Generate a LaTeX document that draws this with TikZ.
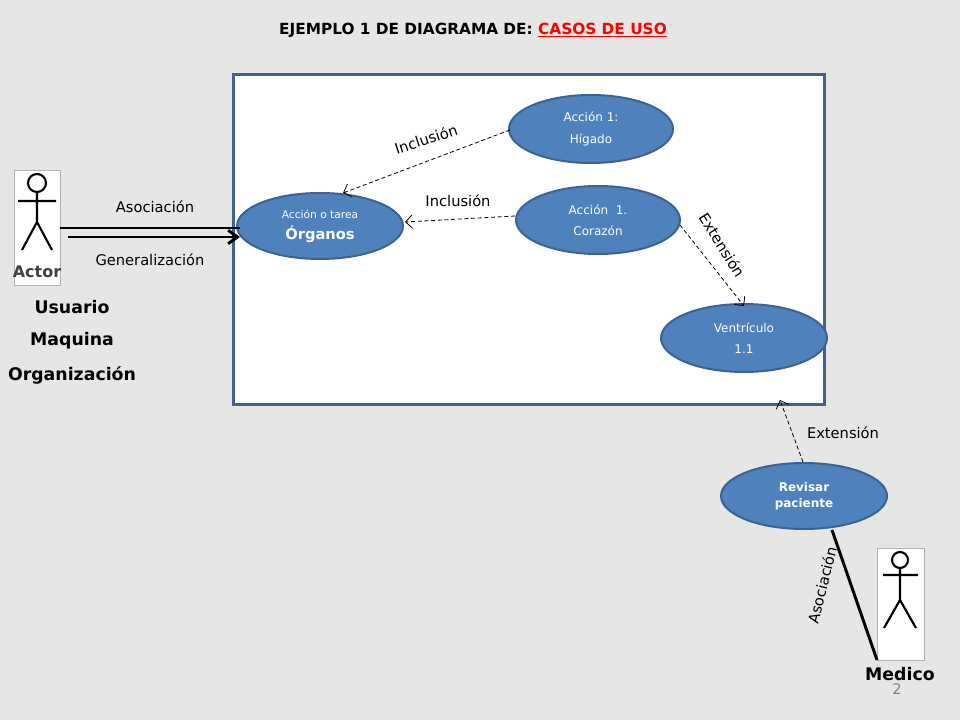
\documentclass[tikz,border=0pt]{standalone}
\usepackage{fontspec}
\setmainfont{DejaVu Sans}
\usetikzlibrary{arrows.meta,shapes.geometric}
\definecolor{bg}{HTML}{E6E6E4}
\definecolor{uc}{HTML}{4F81BD}
\definecolor{ucb}{HTML}{3A6391}
\definecolor{boxb}{HTML}{41648F}
\tikzset{
 usecase/.style={ellipse,fill=uc,draw=ucb,line width=1.5pt,text=white,font=\fontsize{9}{16}\selectfont,align=center,inner sep=0pt},
 dep/.style={densely dashed,-{Straight Barb[length=5pt]},line width=0.6pt},
 lbl/.style={font=\fontsize{11}{13}\selectfont},
 big/.style={font=\bfseries\fontsize{13}{15}\selectfont},
 stick/.style={line width=1.6pt}
}
\begin{document}
\begin{tikzpicture}[x=0.75pt,y=-0.75pt]
\fill[bg] (0,0) rectangle (960,720);
\useasboundingbox (0,0) rectangle (960,720);
\node[font=\bfseries\fontsize{11.5}{13}\selectfont] (title) at (473,30) {EJEMPLO 1 DE DIAGRAMA DE: \textcolor{red}{\underline{CASOS DE USO}}};
\node[draw=boxb,fill=white,line width=2pt,minimum width=591*0.75pt,minimum height=330*0.75pt,anchor=north west,inner sep=0pt] (sys) at (232,73) {};
\node[usecase,minimum width=166*0.75pt,minimum height=66*0.75pt] (org) at (320,226) {\fontsize{8}{13}\selectfont Acción o tarea\\ \bfseries\fontsize{11}{13}\selectfont Órganos};
\node[usecase,minimum width=164*0.75pt,minimum height=68*0.75pt] (hig) at (591,129) {Acción 1:\\ Hígado};
\node[usecase,minimum width=164*0.75pt,minimum height=68*0.75pt] (cor) at (598,220) {Acción\ \ 1.\\ Corazón};
\node[usecase,minimum width=166*0.75pt,minimum height=68*0.75pt] (ven) at (744,338) {Ventrículo\\ 1.1};
\node[usecase,minimum width=166*0.75pt,minimum height=66*0.75pt,font=\bfseries\fontsize{9}{12}\selectfont] (rev) at (804,496) {Revisar\\ paciente};
\coordinate (hgL) at (510,130); \coordinate (orgT) at (343,193);
\draw[dep] (hgL) -- (orgT);
\coordinate (crL) at (515,216); \coordinate (orgR) at (405,222);
\draw[dep] (crL) -- (orgR);
\coordinate (crR) at (680,225); \coordinate (venT) at (744,306);
\draw[dep] (crR) -- (venT);
\coordinate (revT) at (803,462); \coordinate (sysB) at (780,400);
\draw[dep] (revT) -- (sysB);
\node[lbl,rotate=18] (l1) at (426,139) {Inclusión};
\node[lbl] (l2) at (458,201) {Inclusión};
\node[lbl,rotate=-58] (l3) at (722,245) {Extensión};
\node[lbl] (l4) at (843,433) {Extensión};
\node[draw=gray!60,fill=white,minimum width=46*0.75pt,minimum height=115*0.75pt,inner sep=0pt,anchor=north west] (act) at (14,170) {};
\begin{scope}[stick]
\draw (37,183) circle[radius=9];
\draw (37,192) -- (37,222) (18,201) -- (56,201) (37,222) -- (22,250) (37,222) -- (52,250);
\end{scope}
\node[font=\bfseries\fontsize{12}{14}\selectfont,text=black!75] (actl) at (37,272) {Actor};
\coordinate (a1) at (60,228); \coordinate (a1e) at (240,228);
\draw[line width=2.2pt] (a1) -- (a1e);
\coordinate (a2) at (68,237); \coordinate (a2e) at (240,237);
\draw[line width=2.2pt,-{Straight Barb[length=7pt,width=10pt]}] (a2) -- (a2e);
\node[lbl] (as1) at (155,207) {Asociación};
\node[lbl] (gen) at (150,260) {Generalización};
\node[big] (u1) at (72,307) {Usuario};
\node[big] (u2) at (72,341) {Maquina};
\node[big] (u3) at (72,375) {Organización};
\node[draw=gray!60,fill=white,minimum width=47*0.75pt,minimum height=112*0.75pt,inner sep=0pt,anchor=north west] (med) at (877,548) {};
\begin{scope}[stick]
\draw (900,560) circle[radius=8];
\draw (900,568) -- (900,600) (883,575) -- (918,575) (900,600) -- (884,628) (900,600) -- (916,628);
\end{scope}
\coordinate (rvB) at (832,530); \coordinate (mdL) at (877,660);
\draw[line width=2.2pt] (rvB) -- (mdL);
\node[lbl,rotate=76] (as2) at (822,585) {Asociación};
\node[big] (medl) at (900,674) {Medico};
\node[text=gray,font=\fontsize{11}{12}\selectfont] (pg) at (897,689) {2};
\end{tikzpicture}
\end{document}
